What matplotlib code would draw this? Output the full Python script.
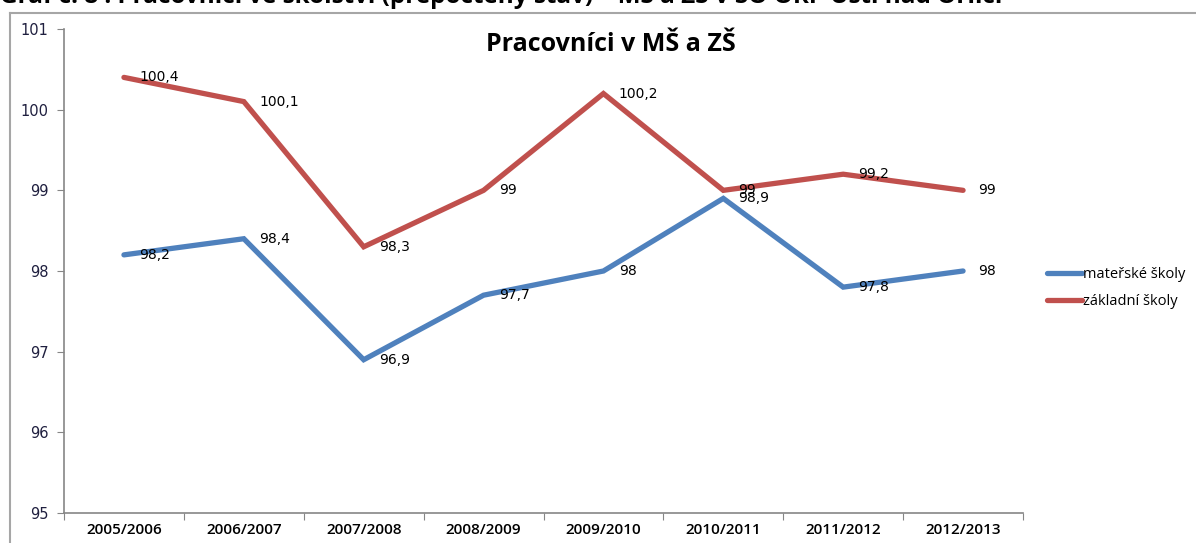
import matplotlib
matplotlib.use("Agg")
import matplotlib.pyplot as plt
from matplotlib.lines import Line2D

categories = ["2005/2006", "2006/2007", "2007/2008", "2008/2009",
              "2009/2010", "2010/2011", "2011/2012", "2012/2013"]
ms_values = [98.2, 98.4, 96.9, 97.7, 98.0, 98.9, 97.8, 98.0]
zs_values = [100.4, 100.1, 98.3, 99.0, 100.2, 99.0, 99.2, 99.0]
series_names = ["mateřské školy", "základní školy"]
yticks = [95, 96, 97, 98, 99, 100, 101]

blue = "#4F81BD"
red = "#C0504D"
W, H = 1196, 543
fig = plt.figure(figsize=(W / 100, H / 100), dpi=100)

# header text (cropped at top)
fig.text(0 / W, 1 - 3 / H,
         "Graf č. 8 : Pracovníci ve školství (přepočtený stav) – MŠ a ZŠ v SO ORP Ústí nad Orlicí",
         fontsize=17.5, fontweight="bold", family="Open Sans", va="baseline", ha="left")

# chart frame
fig.add_artist(Line2D([9.5 / W, 9.5 / W], [0, 1 - 13 / H], color="#A6A6A6", lw=1.5))
fig.add_artist(Line2D([9.5 / W, 1], [1 - 13 / H, 1 - 13 / H], color="#A6A6A6", lw=1.5))

ax = fig.add_axes([64 / W, 1 - 513 / H, (1023 - 64) / W, (513 - 29) / H])
x = list(range(len(categories)))
l1, = ax.plot(x, ms_values, color=blue, lw=3.8, solid_capstyle="round", solid_joinstyle="miter")
l2, = ax.plot(x, zs_values, color=red, lw=3.8, solid_capstyle="round", solid_joinstyle="miter")

ax.set_xlim(-0.5, len(categories) - 0.5)
ax.set_ylim(95, 101)
ax.set_yticks(yticks)
ax.set_yticklabels([str(v) for v in yticks], fontsize=10.5, family="DejaVu Sans", color="#1F1F3F")
ax.set_xticks([i - 0.5 for i in range(len(categories) + 1)], minor=False)
ax.set_xticklabels([])
ax.set_xticks(x, minor=True)
ax.set_xticklabels(categories, minor=True, fontsize=11, family="Open Sans", fontweight="semibold")
ax.tick_params(axis="x", which="minor", length=0, pad=7)
ax.tick_params(axis="x", which="major", length=5, color="#868686", direction="out")
ax.tick_params(axis="y", length=5, color="#868686", direction="out", pad=6)
for s in ["top", "right"]:
    ax.spines[s].set_visible(False)
for s in ["left", "bottom"]:
    ax.spines[s].set_color("#868686")
    ax.spines[s].set_linewidth(1.2)

def fmt(v):
    return ("%g" % v).replace(".", ",")

for vals in (ms_values, zs_values):
    for i, v in enumerate(vals):
        ax.annotate(fmt(v), (i, v), xytext=(11, 0), textcoords="offset points",
                    fontsize=10, family="DejaVu Sans", va="center", ha="left")

fig.text(611 / W, 1 - 51 / H, "Pracovníci v MŠ a ZŠ", fontsize=18, fontweight="bold",
         family="Open Sans", ha="center", va="baseline")

fig.legend([l1, l2], series_names, loc="upper left",
           bbox_to_anchor=(1034 / W, 1 - 254 / H), frameon=False,
           prop={"family": "Open Sans", "size": 10.5},
           handlelength=2.4, handletextpad=0.05, labelspacing=0.8)

fig.savefig("out.png", dpi=100)
